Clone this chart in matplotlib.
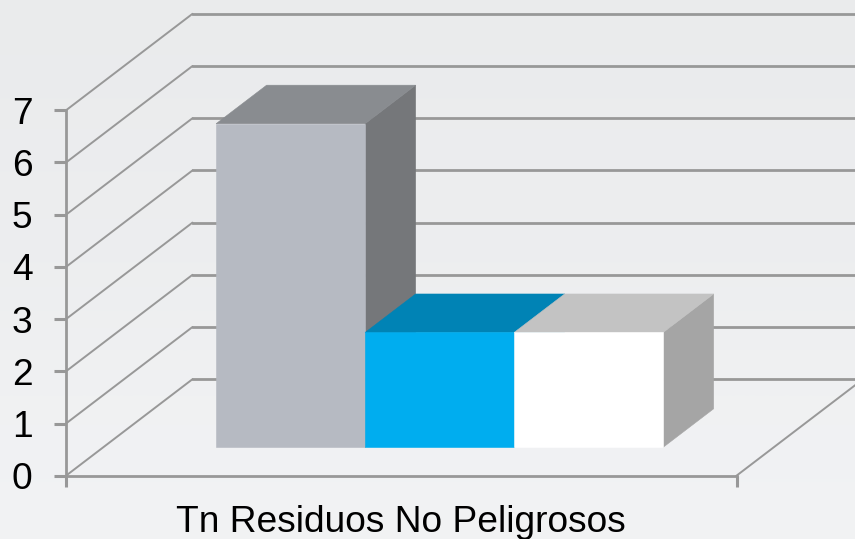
"""Fake 3D column chart, Tn Residuos No Peligrosos."""
import matplotlib
matplotlib.use("Agg")
import matplotlib.pyplot as plt
import numpy as np

plt.rcParams["font.family"] = ["Liberation Sans", "DejaVu Sans"]

category_label = "Tn Residuos No Peligrosos"
values = [6.2, 2.2, 2.2]
y_ticks = [0, 1, 2, 3, 4, 5, 6, 7]

front_colors = ["#b6bac2", "#00adef", "#ffffff"]
top_colors = ["#898c90", "#0083b5", "#c3c3c3"]
side_colors = ["#75777a", "#00719c", "#a5a5a5"]

W, H = 855, 539
X0, Y0 = 66.0, 475.7       # pixel position of the origin
BAR_W = 149.0              # pixels per x unit
UNIT = 52.2                # pixels per value unit
DEPTH_X, DEPTH_Y = 126.5, 96.5
X_MAX = 4.5                # front floor length in x units
BAR_START = 0.758
BAR_FRONT, BAR_BACK = 0.294, 0.693
LINE = "#989898"


def proj(x, v, d):
    return x + d * DEPTH_X / BAR_W, v + d * DEPTH_Y / UNIT


def poly(ax, pts, color, z):
    xs, ys = zip(*pts)
    ax.fill(xs, ys, facecolor=color, edgecolor=color, linewidth=0.4, zorder=z)


fig = plt.figure(figsize=(W / 100, H / 100), dpi=100)
ax = fig.add_axes([0, 0, 1, 1])

# soft background
grad = np.array([[0.922], [0.93], [0.932], [0.945], [0.95]])
bg = np.dstack([grad - 0.004, grad, grad + 0.006])
ax.imshow(bg, aspect="auto", extent=(0, 1, 0, 1), transform=ax.transAxes,
          interpolation="bicubic", zorder=0)

ax.set_xlim(-X0 / BAR_W, (W - X0) / BAR_W)
ax.set_ylim((Y0 - H) / UNIT, Y0 / UNIT)

# walls: diagonals on the left wall, horizontals on the back wall
for v in y_ticks:
    x1, y1 = proj(0, v, 1)
    ax.plot([0, x1], [v, y1], color=LINE, lw=1.4, zorder=1, solid_capstyle="round")
    ax.plot([x1, proj(X_MAX, v, 1)[0]], [y1, y1], color=LINE, lw=2.0, zorder=1)
x1, y1 = proj(X_MAX, 0, 1)
ax.plot([X_MAX, x1], [0, y1], color=LINE, lw=1.4, zorder=1)

# bars
for i, val in enumerate(values):
    left = BAR_START + i
    right = left + 1
    z = 2 + i
    poly(ax, [proj(right, 0, BAR_FRONT), proj(right, 0, BAR_BACK),
              proj(right, val, BAR_BACK), proj(right, val, BAR_FRONT)], side_colors[i], z)
    poly(ax, [proj(left, val, BAR_FRONT), proj(right, val, BAR_FRONT),
              proj(right, val, BAR_BACK), proj(left, val, BAR_BACK)], top_colors[i], z)
    poly(ax, [proj(left, 0, BAR_FRONT), proj(right, 0, BAR_FRONT),
              proj(right, val, BAR_FRONT), proj(left, val, BAR_FRONT)], front_colors[i], z)

# axes on the front plane
for s in ["top", "right"]:
    ax.spines[s].set_visible(False)
ax.spines["left"].set_position(("data", 0))
ax.spines["bottom"].set_position(("data", 0))
ax.spines["left"].set_bounds(0, 7)
ax.spines["bottom"].set_bounds(0, X_MAX)
for s in ["left", "bottom"]:
    ax.spines[s].set_color(LINE)
    ax.spines[s].set_linewidth(2.0)
    ax.spines[s].set_zorder(6)
ax.set_yticks(y_ticks)
ax.set_xticks([0, X_MAX])
ax.set_xticklabels([])
ax.tick_params(axis="y", length=8.6, width=2.2, color=LINE, labelsize=26.7,
               labelcolor="black", pad=15.5)
ax.tick_params(axis="x", length=8, width=2.2, color=LINE)

ax.text(X_MAX / 2 - 0.003, (Y0 - 531.5) / UNIT, category_label, fontsize=26.7,
        color="black", ha="center", va="baseline", zorder=7)

fig.savefig("out.png", dpi=100)
plt.close(fig)
